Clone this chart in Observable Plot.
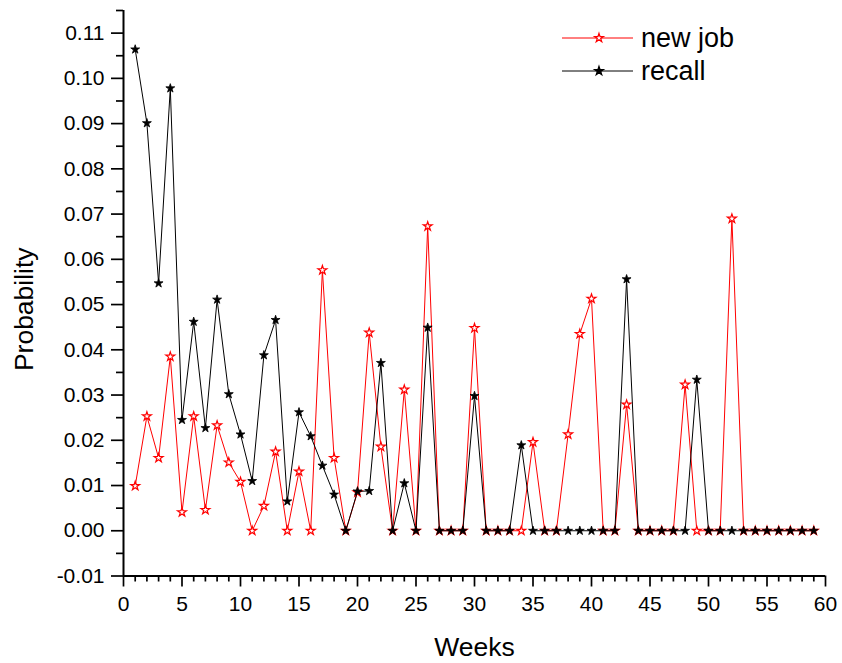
<!DOCTYPE html>
<html>
<head>
<meta charset="utf-8">
<script src="https://cdn.jsdelivr.net/npm/d3@7"></script>
<script src="https://cdn.jsdelivr.net/npm/@observablehq/plot@0.6"></script>
<style>
  html, body { margin: 0; padding: 0; background: #fff; }
  #wrap { position: relative; width: 842px; height: 663px; font-family: "Liberation Sans", Arial, sans-serif; }
  #legend { position: absolute; left: 0; top: 0; pointer-events: none; }
</style>
</head>
<body>
<div id="wrap"></div>
<script>
const weeks = d3.range(1, 60);
const newJob = [
  0.0099, 0.0253, 0.0161, 0.0385, 0.0041, 0.0253, 0.0046, 0.0233, 0.0151, 0.0108,
  0.0000, 0.0055, 0.0175, 0.0000, 0.0131, 0.0000, 0.0576, 0.0161, 0.0000, 0.0085,
  0.0438, 0.0186, 0.0000, 0.0312, 0.0000, 0.0673, 0.0000, 0.0000, 0.0000, 0.0448,
  0.0000, 0.0000, 0.0000, 0.0000, 0.0196, 0.0000, 0.0000, 0.0213, 0.0435, 0.0513,
  0.0000, 0.0000, 0.0279, 0.0000, 0.0000, 0.0000, 0.0000, 0.0323, 0.0000, 0.0000,
  0.0000, 0.0690, 0.0000, 0.0000, 0.0000, 0.0000, 0.0000, 0.0000, 0.0000
];
const recall = [
  0.1064, 0.0901, 0.0547, 0.0978, 0.0245, 0.0462, 0.0227, 0.0511, 0.0302, 0.0213,
  0.0110, 0.0388, 0.0466, 0.0065, 0.0262, 0.0209, 0.0144, 0.0080, 0.0000, 0.0087,
  0.0088, 0.0371, 0.0000, 0.0105, 0.0000, 0.0449, 0.0000, 0.0000, 0.0000, 0.0298,
  0.0000, 0.0000, 0.0000, 0.0189, 0.0000, 0.0000, 0.0000, 0.0000, 0.0000, 0.0000,
  0.0000, 0.0000, 0.0556, 0.0000, 0.0000, 0.0000, 0.0000, 0.0000, 0.0334, 0.0000,
  0.0000, 0.0000, 0.0000, 0.0000, 0.0000, 0.0000, 0.0000, 0.0000, 0.0000
];
const seriesNames = ["new job", "recall"];
const xMajorTicks = d3.range(0, 61, 5);
const xMinorTicks = d3.range(0, 61, 1).filter(d => d % 5 !== 0);
const yMajorTicks = [-0.01, 0.00, 0.01, 0.02, 0.03, 0.04, 0.05, 0.06, 0.07, 0.08, 0.09, 0.10, 0.11];
const yMinorTicks = [-0.005, 0.005, 0.015, 0.025, 0.035, 0.045, 0.055, 0.065, 0.075, 0.085, 0.095, 0.105, 0.115];

const redData = weeks.map((w, i) => ({week: w, value: newJob[i]}));
const blackData = weeks.map((w, i) => ({week: w, value: recall[i]}));

const font = "Liberation Sans, Arial, sans-serif";
const chart = Plot.plot({
  width: 842,
  height: 663,
  marginLeft: 123,
  marginRight: 17,
  marginTop: 10,
  marginBottom: 87.5,
  style: {fontFamily: font, background: "white"},
  x: {domain: [0, 60], axis: null},
  y: {domain: [-0.01, 0.115], axis: null},
  marks: [
    Plot.axisY({ticks: yMinorTicks, tickSize: 7, tickFormat: () => "", strokeWidth: 1.7, label: null}),
    Plot.axisY({ticks: yMajorTicks, tickSize: 12, tickPadding: 7, tickFormat: d => d.toFixed(2), fontSize: 21, strokeWidth: 1.7, label: null, fill: "black"}),
    Plot.axisX({ticks: xMinorTicks, tickSize: 6, tickFormat: () => "", strokeWidth: 1.7, label: null}),
    Plot.axisX({ticks: xMajorTicks, tickSize: 11, tickPadding: 9, tickFormat: d => String(d), fontSize: 21, strokeWidth: 1.7, label: null, fill: "black"}),
    Plot.ruleX([0], {y1: -0.01, y2: 0.115, stroke: "black", strokeWidth: 2}),
    Plot.ruleY([-0.01], {x1: 0, x2: 60, stroke: "black", strokeWidth: 2}),
    Plot.line(redData, {x: "week", y: "value", stroke: "#ff0000", strokeWidth: 1}),
    Plot.dot(redData, {x: "week", y: "value", symbol: "star", r: 2.8, stroke: "#ff0000", fill: "white", strokeWidth: 1.2}),
    Plot.line(blackData, {x: "week", y: "value", stroke: "black", strokeWidth: 1}),
    Plot.dot(blackData, {x: "week", y: "value", symbol: "star", r: 2.8, stroke: "black", fill: "black", strokeWidth: 0.8}),
    Plot.text(["Weeks"], {frameAnchor: "bottom", lineAnchor: "middle", textAnchor: "middle", dy: 72, fontSize: 26.5, fill: "black"}),
    Plot.text(["Probability"], {frameAnchor: "left", lineAnchor: "middle", textAnchor: "middle", dx: -99, dy: 16, rotate: -90, fontSize: 26.5, fill: "black"})
  ]
});
document.getElementById("wrap").appendChild(chart);

// legend overlay
const legend = d3.select("#wrap").append("svg")
  .attr("id", "legend").attr("width", 842).attr("height", 120);
const starPath = d3.symbol(d3.symbolStar, 2.8 * 2.8 * Math.PI)();
const legendItems = [
  {name: seriesNames[0], stroke: "#ff0000", fill: "white", y: 38},
  {name: seriesNames[1], stroke: "black", fill: "black", y: 71}
];
legendItems.forEach(it => {
  legend.append("line").attr("x1", 562).attr("x2", 633).attr("y1", it.y).attr("y2", it.y)
    .attr("stroke", it.stroke).attr("stroke-width", 1);
  legend.append("path").attr("d", starPath).attr("transform", `translate(599,${it.y})`)
    .attr("stroke", it.stroke).attr("fill", it.fill).attr("stroke-width", 1.2);
  legend.append("text").attr("x", 641).attr("y", it.y + 9).attr("font-size", 27)
    .attr("font-family", font).attr("fill", "black").text(it.name);
});
</script>
</body>
</html>
